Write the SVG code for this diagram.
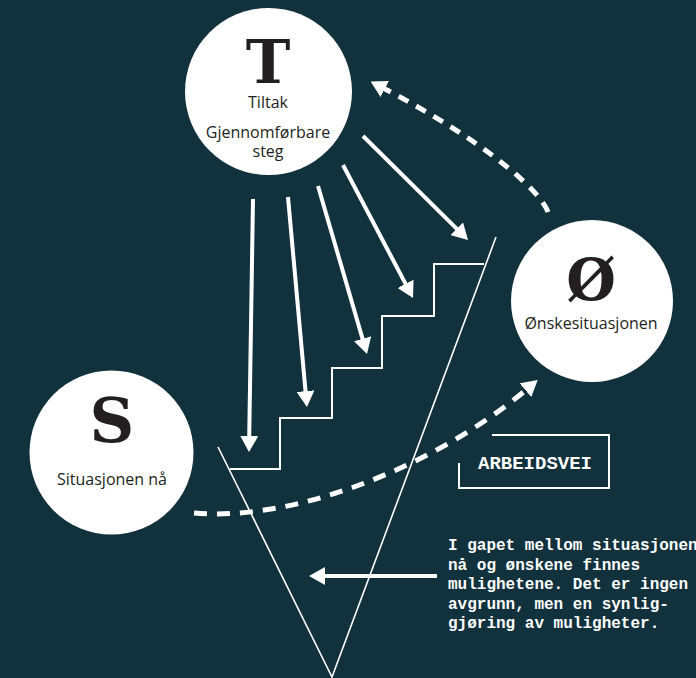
<svg xmlns="http://www.w3.org/2000/svg" width="696" height="678" viewBox="0 0 696 678">
<style>
.node circle{fill:#ffffff}
.big{font-family:"DejaVu Serif",serif;font-weight:bold;fill:#231f20;text-anchor:middle}
.lbl{font-family:"Open Sans","Noto Sans",sans-serif;font-size:16px;fill:#231f20;text-anchor:middle}
.line{stroke:#ffffff;fill:none}
.arrow{stroke:#ffffff;stroke-width:4;fill:none;marker-end:url(#head)}
.dash{stroke:#ffffff;stroke-width:5;fill:none;marker-end:url(#head)}
.mono{font-family:"Liberation Mono","Courier New",monospace;font-weight:bold;fill:#ffffff}
</style>
<defs>
<marker id="head" markerUnits="userSpaceOnUse" viewBox="0 0 16 18" markerWidth="16" markerHeight="18" refX="2" refY="9" orient="auto">
<path d="M0,0 L16,9 L0,18 z" fill="#ffffff"/>
</marker>
</defs>
<rect width="696" height="678" fill="#11313c"/>

<g id="stairs" class="line" stroke-width="2">
<polyline points="230,469 280,469 280,418 332,418 332,368 382,368 382,316 434,316 434,264 484,264"/>
</g>
<g id="gap" class="line" stroke-width="1.6">
<polyline points="218,447 332,677 496,237"/>
</g>

<g id="connectors">
<line class="arrow" x1="253" y1="199" x2="249.2" y2="438"/>
<line class="arrow" x1="288" y1="197" x2="305.7" y2="393.1"/>
<line class="arrow" x1="318" y1="186" x2="363.1" y2="340.6"/>
<line class="arrow" x1="343" y1="165" x2="406.5" y2="285.6"/>
<line class="arrow" x1="363" y1="136" x2="458.1" y2="230.2"/>
<path class="dash" stroke-dasharray="13 10" d="M194,513 C300,522 441,462 527,389"/>
<path class="dash" stroke-dasharray="11 9" d="M548,212 C540,190 483,140 383,88"/>
<line class="arrow" stroke-width="5" x1="437" y1="576" x2="323" y2="576"/>
</g>

<g id="node-T" class="node">
<circle cx="268.5" cy="91.5" r="83.5"/>
<text class="big" x="268" y="83" font-size="60">T</text>
<text class="lbl" x="268" y="108">Tiltak</text>
<text class="lbl" x="268" y="138">Gjennomførbare</text>
<text class="lbl" x="268" y="157">steg</text>
</g>

<g id="node-O" class="node">
<circle cx="592" cy="301" r="81"/>
<text class="big" x="591" y="300" font-size="57">Ø</text>
<text class="lbl" x="591" y="329">Ønskesituasjonen</text>
</g>

<g id="node-S" class="node">
<circle cx="111.5" cy="452.5" r="82"/>
<text class="big" x="112" y="442" font-size="62">S</text>
<text class="lbl" x="112" y="485">Situasjonen nå</text>
</g>

<g id="label-arbeidsvei">
<polyline class="line" stroke-width="2" points="492,435 609,435 609,488 459,488 459,463"/>
<text class="mono" x="478" y="469" font-size="19">ARBEIDSVEI</text>
</g>

<g id="note" class="mono" font-size="16">
<text x="448" y="550">I gapet mellom situasjonen</text>
<text x="448" y="569.5">nå og ønskene finnes</text>
<text x="448" y="589">mulighetene. Det er ingen</text>
<text x="448" y="608.5">avgrunn, men en synlig-</text>
<text x="448" y="628">gjøring av muligheter.</text>
</g>
</svg>
